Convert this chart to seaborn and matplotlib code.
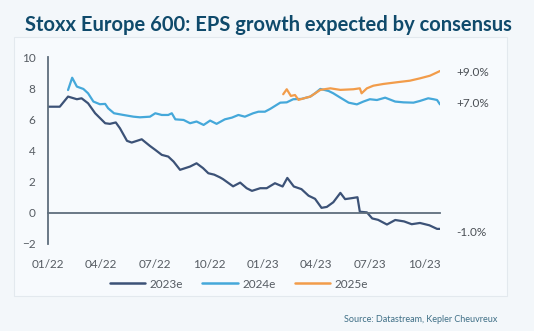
import matplotlib
matplotlib.use("Agg")
import matplotlib.pyplot as plt
from matplotlib.patches import Rectangle
from matplotlib.lines import Line2D
import pandas as pd
import seaborn as sns

# ---------------- data ----------------
dates_2023e = ["2022-01-01", "2022-01-21", "2022-02-04", "2022-02-19", "2022-02-27", "2022-03-10",
               "2022-03-22", "2022-04-08", "2022-04-16", "2022-04-26", "2022-05-03", "2022-05-15",
               "2022-05-23", "2022-06-09", "2022-06-23", "2022-07-02", "2022-07-13", "2022-07-24",
               "2022-08-02", "2022-08-13", "2022-08-30", "2022-09-10", "2022-09-21", "2022-09-30",
               "2022-10-10", "2022-10-20", "2022-10-25", "2022-11-11", "2022-11-23", "2022-12-04",
               "2022-12-13", "2022-12-27", "2023-01-07", "2023-01-21", "2023-02-03", "2023-02-11",
               "2023-02-22", "2023-03-07", "2023-03-19", "2023-03-30", "2023-04-10", "2023-04-19",
               "2023-04-30", "2023-05-12", "2023-05-20", "2023-05-31", "2023-06-10", "2023-06-14",
               "2023-06-26", "2023-07-05", "2023-07-15", "2023-07-30", "2023-08-13", "2023-08-28",
               "2023-09-10", "2023-09-24", "2023-10-10", "2023-10-23", "2023-10-28"]
values_2023e = [6.81, 6.81, 7.46, 7.29, 7.35, 7.03,
                6.39, 5.75, 5.71, 5.80, 5.43, 4.62,
                4.51, 4.72, 4.29, 4.04, 3.72, 3.61,
                3.29, 2.76, 2.97, 3.18, 2.87, 2.54,
                2.45, 2.27, 2.16, 1.70, 1.94, 1.58,
                1.41, 1.58, 1.58, 1.90, 1.69, 2.24,
                1.69, 1.52, 1.10, 0.90, 0.32, 0.38,
                0.68, 1.28, 0.88, 0.94, 1.00, 0.07,
                0.03, -0.36, -0.45, -0.75, -0.46, -0.55,
                -0.73, -0.65, -0.80, -1.03, -1.03]

dates_2024e = ["2022-02-04", "2022-02-11", "2022-02-19", "2022-03-02", "2022-03-10", "2022-03-19",
               "2022-03-30", "2022-04-08", "2022-04-13", "2022-04-23", "2022-05-09", "2022-05-26",
               "2022-06-06", "2022-06-23", "2022-07-02", "2022-07-13", "2022-07-24", "2022-07-30",
               "2022-08-05", "2022-08-19", "2022-08-30", "2022-09-10", "2022-09-22", "2022-10-03",
               "2022-10-14", "2022-10-28", "2022-11-09", "2022-11-20", "2022-12-01", "2022-12-15",
               "2022-12-24", "2023-01-04", "2023-01-13", "2023-01-30", "2023-02-10", "2023-02-21",
               "2023-03-07", "2023-03-22", "2023-03-30", "2023-04-08", "2023-04-22", "2023-04-30",
               "2023-05-12", "2023-05-26", "2023-06-09", "2023-06-20", "2023-07-01", "2023-07-13",
               "2023-07-27", "2023-08-13", "2023-08-27", "2023-09-13", "2023-09-24", "2023-10-08",
               "2023-10-17", "2023-10-23", "2023-10-28"]
values_2024e = [7.88, 8.67, 8.10, 7.95, 7.67, 7.14,
                6.97, 6.99, 6.71, 6.39, 6.28, 6.17,
                6.13, 6.17, 6.39, 6.28, 6.28, 6.39,
                6.00, 5.96, 5.75, 5.86, 5.64, 5.92,
                5.71, 6.00, 6.11, 6.28, 6.17, 6.39,
                6.49, 6.49, 6.67, 7.07, 7.09, 7.29,
                7.31, 7.46, 7.67, 7.95, 7.82, 7.67,
                7.39, 7.07, 6.96, 7.14, 7.29, 7.24,
                7.39, 7.14, 7.09, 7.07, 7.18, 7.35,
                7.29, 7.24, 6.96]

dates_2025e = ["2023-02-04", "2023-02-10", "2023-02-17", "2023-02-24", "2023-03-02", "2023-03-16",
               "2023-03-22", "2023-04-08", "2023-04-25", "2023-05-12", "2023-06-03", "2023-06-14",
               "2023-06-17", "2023-06-26", "2023-07-07", "2023-07-24", "2023-08-16", "2023-09-07",
               "2023-09-24", "2023-10-11", "2023-10-28"]
values_2025e = [7.61, 7.93, 7.50, 7.56, 7.25, 7.40,
                7.46, 7.89, 7.99, 7.89, 7.93, 7.99,
                7.67, 7.99, 8.16, 8.27, 8.38, 8.48,
                8.63, 8.80, 9.10]

series_names = ["2023e", "2024e", "2025e"]
series_colors = ["#3c5277", "#45a8da", "#f29c4a"]
end_labels = ["-1.0%", "+7.0%", "+9.0%"]
end_label_y = [-1.25, 7.0, 9.0]
x_tick_dates = ["2022-01-01", "2022-04-01", "2022-07-01", "2022-10-01",
                "2023-01-01", "2023-04-01", "2023-07-01", "2023-10-01"]
x_tick_labels = ["01/22", "04/22", "07/22", "10/22", "01/23", "04/23", "07/23", "10/23"]
y_ticks = [-2, 0, 2, 4, 6, 8, 10]

title = "Stoxx Europe 600: EPS growth expected by consensus"
source = "Source: Datastream, Kepler Cheuvreux"

# ---------------- build frame ----------------
frames = []
for name, d, v in [("2023e", dates_2023e, values_2023e),
                   ("2024e", dates_2024e, values_2024e),
                   ("2025e", dates_2025e, values_2025e)]:
    frames.append(pd.DataFrame({"date": pd.to_datetime(d), "value": v, "series": name}))
df = pd.concat(frames, ignore_index=True)

# ---------------- plot ----------------
sns.set_theme(style="white")
plt.rcParams["font.family"] = ["Lato", "DejaVu Sans"]

bg = "#f3f7fa"
fig = plt.figure(figsize=(5.34, 3.31), dpi=100, facecolor=bg)
panel = Rectangle((14 / 534, 1 - 296 / 331), (507 - 14) / 534, (296 - 37) / 331,
                  transform=fig.transFigure, facecolor="#f7fafd", edgecolor="#e3e9ee",
                  linewidth=0.8, zorder=-5)
fig.patches.append(panel)

ax = fig.add_axes([48 / 534, 1 - 244 / 331, (440 - 48) / 534, (244 - 57) / 331])
ax.set_facecolor("none")
ax.set_zorder(2)

sns.lineplot(data=df, x="date", y="value", hue="series", hue_order=series_names,
             palette=dict(zip(series_names, series_colors)), linewidth=1.6,
             ax=ax, legend=False, estimator=None, sort=True)

ax.set_xlim(pd.Timestamp("2022-01-01"), pd.Timestamp("2023-10-28"))
ax.set_ylim(-2, 10)
ax.set_xlabel("")
ax.set_ylabel("")

axis_color = "#5f6e7d"
for s in ["top", "right"]:
    ax.spines[s].set_visible(False)
ax.spines["left"].set_color(axis_color)
ax.spines["left"].set_linewidth(1.3)
ax.spines["bottom"].set_position(("data", 0))
ax.spines["bottom"].set_color(axis_color)
ax.spines["bottom"].set_linewidth(1.3)

ax.set_xticks(pd.to_datetime(x_tick_dates))
ax.set_xticklabels(x_tick_labels)
ax.set_yticks(y_ticks)
ax.tick_params(axis="x", direction="out", length=3, width=1, color=axis_color,
               pad=30, labelsize=8.5, labelcolor="#555b62")
ax.tick_params(axis="y", length=0, pad=9, labelsize=8.5, labelcolor="#555b62")
ax.grid(False)

# end-of-line labels
for name, lab, yy in zip(series_names, end_labels, end_label_y):
    last = df[df["series"] == name]["date"].max()
    ax.annotate(lab, xy=(last, yy), xytext=(12, 0), textcoords="offset points",
                ha="left", va="center", fontsize=8.5, color="#4a4f55",
                annotation_clip=False)

# legend
handles = [Line2D([0], [0], color=c, lw=1.8) for c in series_colors]
ax.legend(handles, series_names, loc="center", bbox_to_anchor=(0.487, 1 - (284 - 57) / (244 - 57)),
          ncol=3, frameon=False, fontsize=8.5, handlelength=3.0, columnspacing=1.6,
          handletextpad=0.4, labelcolor="#555b62")

fig.text(268 / 534, 1 - 25 / 331, title, ha="center", va="center",
         fontsize=14.5, fontweight="bold", color="#0f4a6b")
fig.text(497 / 534, 1 - 319 / 331, source, ha="right", va="center",
         fontsize=6.5, color="#3f6f86")

fig.savefig("out.png", dpi=100, facecolor=bg)
